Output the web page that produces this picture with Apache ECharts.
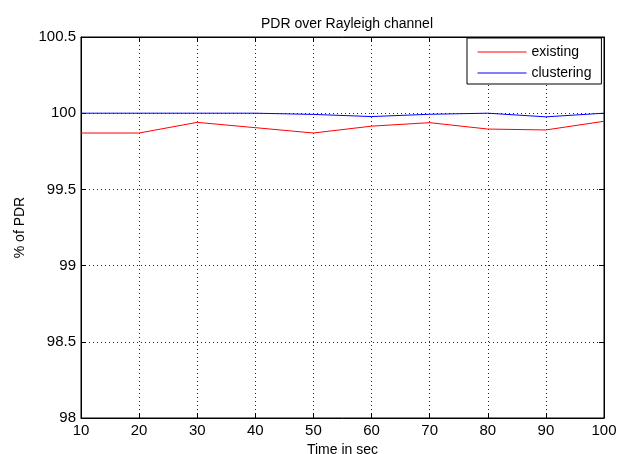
<!DOCTYPE html>
<html>
<head>
<meta charset="utf-8">
<script src="https://cdn.jsdelivr.net/npm/echarts@6/dist/echarts.min.js"></script>
<style>html,body{margin:0;padding:0;background:#fff;}#c{width:617px;height:454px;}</style>
</head>
<body>
<div id="c"></div>
<script>
var timeSec = [10, 20, 30, 40, 50, 60, 70, 80, 90, 100];
var existing = [99.87, 99.87, 99.94, 99.905, 99.87, 99.915, 99.938, 99.896, 99.89, 99.947];
var clustering = [100, 100, 100, 100, 99.992, 99.978, 99.993, 100, 99.976, 100];

var FONT = '"Liberation Sans", Arial, sans-serif';
function pairs(xs, ys) { return xs.map(function (x, i) { return [x, ys[i]]; }); }

var chart = echarts.init(document.getElementById('c'), null, { renderer: 'canvas' });
var axisLine = { show: true, lineStyle: { color: '#000', width: 1 } };
var tick = { show: true, inside: true, length: 5, lineStyle: { color: '#000' } };
var gridLine = { show: true, lineStyle: { color: '#222', type: [1, 3], width: 1 } };
chart.setOption({
  backgroundColor: '#fff',
  animation: false,
  title: {
    text: 'PDR over Rayleigh channel',
    left: 342, textAlign: 'center', top: 12,
    textStyle: { fontFamily: FONT, fontSize: 14, fontWeight: 'normal', color: '#000' }
  },
  legend: {
    data: ['existing', 'clustering'],
    orient: 'vertical',
    left: 467, top: 38,
    padding: [7, 10, 4, 10],
    itemWidth: 49, itemHeight: 14, itemGap: 7,
    itemStyle: { opacity: 0 },
    lineStyle: { width: 1 },
    backgroundColor: '#fff', borderColor: '#000', borderWidth: 1, borderRadius: 0,
    textStyle: { fontFamily: FONT, fontSize: 14, color: '#000' }
  },
  grid: { left: 81, right: 13, top: 37, bottom: 36, show: true, borderColor: '#000', borderWidth: 1, backgroundColor: '#fff', containLabel: false, outerBoundsMode: 'none' },
  xAxis: [{
    type: 'value', min: 10, max: 100, interval: 10,
    name: 'Time in sec', nameLocation: 'middle', nameGap: 21,
    nameTextStyle: { fontFamily: FONT, fontSize: 14, color: '#000' },
    axisLine: axisLine, axisTick: tick,
    axisLabel: { fontFamily: FONT, fontSize: 15, color: '#000', margin: 5 },
    splitLine: gridLine
  }, {
    type: 'value', min: 10, max: 100, interval: 10, position: 'top',
    axisLine: axisLine, axisTick: tick, axisLabel: { show: false }, splitLine: { show: false }
  }],
  yAxis: [{
    type: 'value', min: 98, max: 100.5, interval: 0.5,
    name: '% of PDR', nameLocation: 'middle', nameGap: 52,
    nameTextStyle: { fontFamily: FONT, fontSize: 14, color: '#000' },
    axisLine: axisLine, axisTick: tick,
    axisLabel: { fontFamily: FONT, fontSize: 15, color: '#000', margin: 5 },
    splitLine: gridLine
  }, {
    type: 'value', min: 98, max: 100.5, interval: 0.5, position: 'right',
    axisLine: axisLine, axisTick: tick, axisLabel: { show: false }, splitLine: { show: false }
  }],
  series: [{
    name: 'existing', type: 'line', data: pairs(timeSec, existing),
    symbol: 'none', showSymbol: false,
    lineStyle: { color: '#ff0000', width: 1 }, itemStyle: { color: '#ff0000' }
  }, {
    name: 'clustering', type: 'line', data: pairs(timeSec, clustering),
    symbol: 'none', showSymbol: false,
    lineStyle: { color: '#0000ff', width: 1 }, itemStyle: { color: '#0000ff' }
  }]
});
</script>
</body>
</html>
